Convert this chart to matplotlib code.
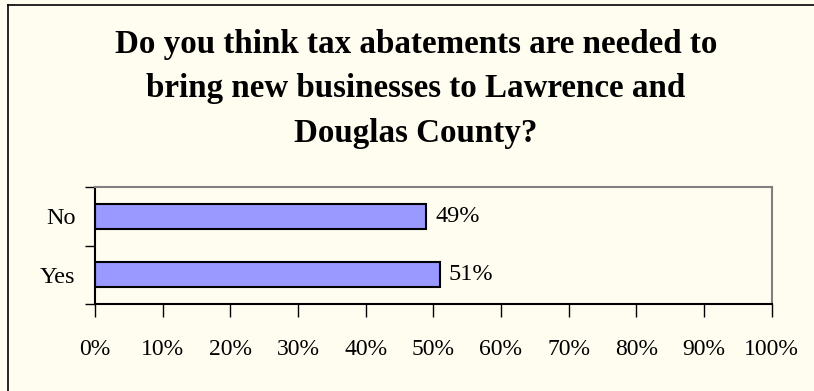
import matplotlib.pyplot as plt
from matplotlib.lines import Line2D

# data
categories = ["Yes", "No"]
values = [51, 49]
x_ticks = list(range(0, 101, 10))
title = ("Do you think tax abatements are needed to\n"
         "bring new businesses to Lawrence and\n"
         "Douglas County?")

BG = "#fffdf0"
BAR = "#9999ff"

plt.rcParams["font.family"] = ["Liberation Serif", "DejaVu Serif"]

fig = plt.figure(figsize=(8.14, 3.91), dpi=100, facecolor=BG)
ax = fig.add_axes([95 / 814, 1 - 304 / 391, 676.5 / 814, 117 / 391])
ax.set_facecolor(BG)

ypos = list(range(len(categories)))
ax.barh(ypos, values, height=0.42, color=BAR, edgecolor="black", linewidth=1.5)

for y, v in zip(ypos, values):
    ax.text(v + 1.3, y, f"{v}%", va="center", ha="left", fontsize=17.5)

ax.set_xlim(0, 100)
ax.set_ylim(-0.5, 1.5)
ax.set_xticks(x_ticks)
ax.set_xticklabels([f"{t}%" for t in x_ticks], fontsize=17)
ax.tick_params(axis="x", length=9, width=1, pad=16, direction="out")

ax.set_yticks(ypos)
ax.set_yticklabels(categories, fontsize=17.5)
ax.set_yticks([-0.5, 0.5, 1.5], minor=True)
ax.tick_params(axis="y", which="major", length=0, pad=14)
ax.tick_params(axis="y", which="minor", length=7, width=1, direction="out")

ax.spines["left"].set_color("black")
ax.spines["bottom"].set_color("black")
ax.spines["top"].set_color("#808080")
ax.spines["right"].set_color("#808080")
for s in ax.spines.values():
    s.set_linewidth(1.5)

fig.text(416 / 814, 1 - 89 / 391, title, ha="center", va="center",
         fontsize=23.8, fontweight="bold", linespacing=1.55)

# outer chart frame (only left and top edges visible)
fig.add_artist(Line2D([7.5 / 814, 7.5 / 814], [0, 1 - 5 / 391], color="black",
                      lw=1.2, transform=fig.transFigure))
fig.add_artist(Line2D([7.5 / 814, 1], [1 - 5 / 391, 1 - 5 / 391], color="black",
                      lw=1.2, transform=fig.transFigure))

fig.savefig("out.png", dpi=100, facecolor=BG)
